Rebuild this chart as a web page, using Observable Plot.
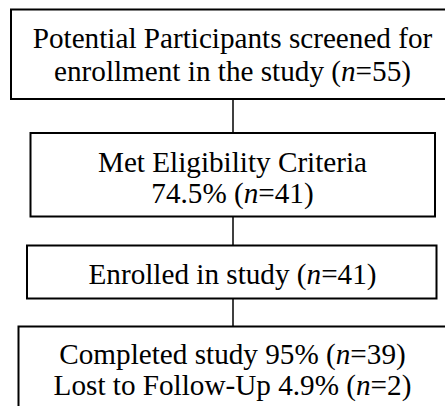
<!DOCTYPE html>
<html>
<head>
<meta charset="utf-8">
<script src="https://cdn.jsdelivr.net/npm/d3@7"></script>
<script src="https://cdn.jsdelivr.net/npm/@observablehq/plot@0.6"></script>
<style>
  html, body { margin: 0; padding: 0; background: #fff; }
</style>
</head>
<body>
<div id="chart"></div>
<script>
// ---- data ----
const stageNames = ["Screened", "Eligible", "Enrolled", "Completed / Lost"];
const stageLines = [
  ["Potential Participants screened for", "enrollment in the study (n=55)"],
  ["Met Eligibility Criteria", "74.5% (n=41)"],
  ["Enrolled in study (n=41)"],
  ["Completed study 95% (n=39)", "Lost to Follow-Up 4.9% (n=2)"]
];
const stageCounts = [55, 41, 41, 39];
const lostCount = [2];

// ---- layout (pixel space of the 445x406 canvas) ----
const W = 445, H = 406;
const layout = {
  boxX1: [11, 30.5, 27, 18.5],
  boxX2: [447, 435, 436.5, 452],
  boxY1: [9.5, 133, 245.5, 326.5],
  boxY2: [99, 216.5, 298.5, 412],
  baselines: [[47.5, 80], [171.5, 202], [283], [363.5, 394.5]],
  textX: 232,
  connectorX: 232.5,
  fontSize: 29.2
};

const boxes = stageNames.map((name, i) => ({
  name,
  x1: layout.boxX1[i], x2: layout.boxX2[i],
  y1: layout.boxY1[i], y2: layout.boxY2[i]
}));
const lines = stageLines.flatMap((ls, i) =>
  ls.map((t, j) => ({ text: t, x: layout.textX, y: layout.baselines[i][j] }))
);
const connectors = boxes.slice(0, -1).map((b, i) => ({
  x: layout.connectorX, y1: b.y2, y2: boxes[i + 1].y1
}));

const svg = Plot.plot({
  width: W,
  height: H,
  margin: 0,
  x: { domain: [0, W], range: [0, W], axis: null },
  y: { domain: [0, H], range: [0, H], axis: null },
  marks: [
    Plot.ruleX(connectors, { x: "x", y1: "y1", y2: "y2", stroke: "#000", strokeWidth: 1.5 }),
    Plot.rect(boxes, { x1: "x1", x2: "x2", y1: "y1", y2: "y2", fill: "#fff", stroke: "#000", strokeWidth: 2 }),
    Plot.text(lines, {
      x: "x", y: "y", text: "text",
      textAnchor: "middle", lineAnchor: "bottom",
      fontSize: layout.fontSize, fill: "#000",
      fontFamily: "Liberation Serif"
    })
  ]
});

// italicise the statistical symbol n
d3.select(svg).selectAll("text").each(function () {
  const el = this;
  const s = el.textContent;
  const k = s.indexOf("(n=");
  if (k >= 0) {
    while (el.firstChild) el.removeChild(el.firstChild);
    const ns = "http://www.w3.org/2000/svg";
    el.appendChild(document.createTextNode(s.slice(0, k + 1)));
    const ts = document.createElementNS(ns, "tspan");
    ts.setAttribute("font-style", "italic");
    ts.textContent = "n";
    el.appendChild(ts);
    el.appendChild(document.createTextNode(s.slice(k + 2)));
  }
});

document.getElementById("chart").appendChild(svg);
</script>
</body>
</html>
